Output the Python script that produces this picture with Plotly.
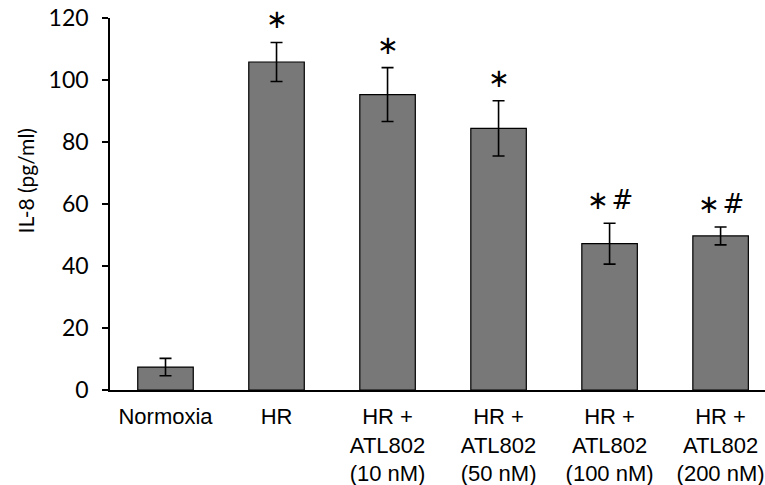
import plotly.graph_objects as go

categories = ["Normoxia", "HR", "HR +<br>ATL802<br>(10 nM)", "HR +<br>ATL802<br>(50 nM)",
              "HR +<br>ATL802<br>(100 nM)", "HR +<br>ATL802<br>(200 nM)"]
il8_mean = [7.4, 105.8, 95.3, 84.4, 47.2, 49.7]
il8_err = [2.8, 6.3, 8.7, 8.9, 6.6, 2.9]
sig_marks = ["", "∗", "∗", "∗", "∗\u200a#", "∗\u200a#"]
y_ticks = [0, 20, 40, 60, 80, 100, 120]

x_idx = list(range(len(categories)))

fig = go.Figure()
fig.add_trace(go.Bar(
    x=x_idx, y=il8_mean, width=0.5,
    marker=dict(color="#787878", line=dict(color="#000000", width=1.2)),
    error_y=dict(type="data", array=il8_err, visible=True, color="#000000",
                 thickness=1.6, width=6),
))

for xi, m, e, s in zip(x_idx, il8_mean, il8_err, sig_marks):
    if s:
        fig.add_annotation(x=xi, y=m + e, text=s, showarrow=False,
                           xanchor="center", yanchor="bottom", yshift=6,
                           font=dict(family="DejaVu Sans", size=26, color="#000000"))

fig.add_annotation(xref="paper", yref="paper", x=-0.129, y=0.562,
                   xanchor="center", yanchor="middle",
                   text="IL-8 (pg/ml)", textangle=-90, showarrow=False,
                   font=dict(family="Lato", size=21, color="#000000"))

fig.update_layout(
    width=765, height=485,
    margin=dict(l=110, r=0, t=18, b=95),
    plot_bgcolor="white", paper_bgcolor="white",
    showlegend=False, bargap=0.5,
)
fig.update_xaxes(
    range=[-0.5, 5.4], tickvals=x_idx, ticktext=categories,
    showline=True, linecolor="#000000", linewidth=1.5,
    ticks="", showgrid=False, zeroline=False, ticklabelstandoff=6,
    ticklabeloverflow="allow", automargin=False,
    tickfont=dict(family="Liberation Sans", size=22, color="#000000"),
)
fig.update_yaxes(
    range=[0, 120], tickvals=y_ticks,
    showline=True, linecolor="#000000", linewidth=1.5,
    ticks="outside", ticklen=6, tickwidth=1.5, tickcolor="#000000",
    showgrid=False, zeroline=False, ticklabelstandoff=9,
    ticklabeloverflow="allow", automargin=False,
    tickfont=dict(family="Lato", size=23, color="#000000"),
)

fig.write_html("out.html", config={"displayModeBar": False},
               post_script="document.body.style.margin='0';")
